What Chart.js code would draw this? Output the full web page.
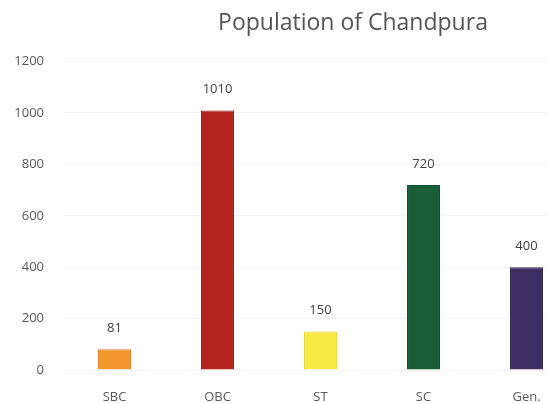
<!DOCTYPE html>
<html>
<head>
<meta charset="utf-8">
<script src="https://cdn.jsdelivr.net/npm/chart.js@4/dist/chart.umd.min.js"></script>
<style>
html,body{margin:0;padding:0;background:#fff;overflow:hidden;}
#wrap{width:548px;height:403px;overflow:hidden;position:relative;}
canvas{display:block;}
</style>
</head>
<body>
<div id="wrap"><canvas id="c" width="600" height="403"></canvas></div>
<script>
const chartTitle = "Population of Chandpura";
const categories = ["SBC", "OBC", "ST", "SC", "Gen."];
const population = [81, 1010, 150, 720, 400];
const barColors = ["#F4962E", "#B3241E", "#F7EA43", "#195E37", "#3E2D62"];
const borderColors = ["#E0852A", "#9A1E1A", "#E8DA3C", "#124D2C", "#31244F"];
const yTicks = [0, 200, 400, 600, 800, 1000, 1200];

const valueLabels = {
  id: "valueLabels",
  afterDatasetsDraw(chart) {
    const ctx = chart.ctx;
    const meta = chart.getDatasetMeta(0);
    ctx.save();
    ctx.font = "13px 'Open Sans', sans-serif";
    ctx.fillStyle = "#404040";
    ctx.textAlign = "center";
    ctx.textBaseline = "middle";
    meta.data.forEach((bar, i) => {
      ctx.fillText(String(chart.data.datasets[0].data[i]), bar.x, bar.y - 21);
    });
    ctx.restore();
  }
};

const titleShift = {
  id: "titleShift",
  afterLayout(chart) {
    const tb = chart.titleBlock;
    if (tb) { const d = 353 - (tb.left + tb.right) / 2; tb.left += d; tb.right += d; }
  }
};

new Chart(document.getElementById("c"), {
  type: "bar",
  data: {
    labels: categories,
    datasets: [{
      data: population,
      backgroundColor: barColors,
      borderColor: borderColors,
      borderWidth: 1,
      categoryPercentage: 0.8,
      barPercentage: 0.4
    }]
  },
  options: {
    responsive: false,
    animation: false,
    layout: { padding: { left: 10, right: 22, top: 0, bottom: 0 } },
    plugins: {
      legend: { display: false },
      tooltip: { enabled: false },
      title: {
        display: true,
        text: chartTitle,
        color: "#555555",
        font: { family: "'Open Sans', sans-serif", size: 23, weight: "normal" },
        padding: { top: 10, bottom: 24 }
      }
    },
    scales: {
      x: {
        afterFit(s) { s.height = 33; },
        grid: { display: false },
        border: { display: false },
        ticks: { color: "#595959", font: { family: "'Open Sans', sans-serif", size: 13 }, padding: 11 }
      },
      y: {
        min: 0, max: 1200,
        afterBuildTicks(s) { s.ticks = yTicks.map(v => ({ value: v })); },
        afterFit(s) { s.width = 53; },
        grid: { color: "#f3f3f3", drawTicks: false },
        border: { display: false },
        ticks: {
          color: "#595959",
          font: { family: "'Open Sans', sans-serif", size: 13 },
          padding: 19,
          callback: (v) => String(v)
        }
      }
    }
  },
  plugins: [valueLabels, titleShift]
});
</script>
</body>
</html>
